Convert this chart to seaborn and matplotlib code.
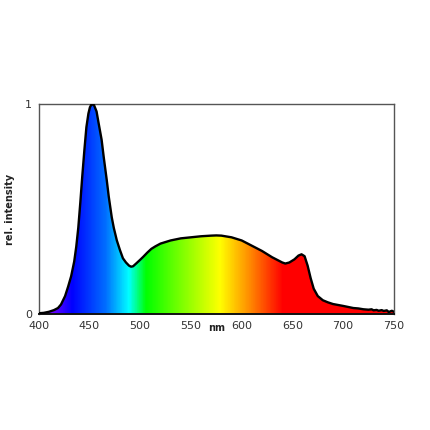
import numpy as np
import pandas as pd
import matplotlib
matplotlib.use("Agg")
import matplotlib.pyplot as plt
import seaborn as sns
from matplotlib.colors import LinearSegmentedColormap

# ---- data ----
wavelength = [400, 405, 410, 415, 419, 422, 426, 429, 432, 435, 437, 439, 441, 443,
              445, 447, 449, 450.5, 452, 453, 454.5, 457, 459, 462, 464, 467, 469,
              472, 474, 477, 480, 483, 486, 489, 491, 493, 496, 500, 503, 507, 511,
              515, 520, 530, 540, 550, 560, 570, 575, 580, 590, 600, 610, 620, 630,
              640, 643, 647, 652, 656, 659, 662, 665, 668, 671, 675, 680, 685, 690,
              700, 710, 715, 720, 725, 728, 730, 733, 735, 738, 740, 743, 745, 748, 750]
intensity = [0.003, 0.005, 0.01, 0.018, 0.028, 0.045, 0.085, 0.13, 0.18, 0.25, 0.32,
             0.41, 0.53, 0.66, 0.78, 0.89, 0.955, 0.985, 0.998, 1.0, 0.995, 0.965,
             0.91, 0.83, 0.75, 0.64, 0.56, 0.46, 0.41, 0.35, 0.305, 0.265, 0.245,
             0.23, 0.225, 0.227, 0.24, 0.258, 0.272, 0.292, 0.31, 0.322, 0.335, 0.35,
             0.36, 0.365, 0.37, 0.373, 0.374, 0.373, 0.365, 0.35, 0.325, 0.30, 0.27,
             0.245, 0.24, 0.245, 0.26, 0.278, 0.284, 0.275, 0.23, 0.17, 0.12, 0.085,
             0.065, 0.055, 0.047, 0.038, 0.028, 0.026, 0.022, 0.02, 0.022, 0.017,
             0.019, 0.015, 0.018, 0.014, 0.017, 0.009, 0.015, 0.01]
x_ticks = [400, 450, 500, 550, 600, 650, 700, 750]
y_ticks = [0, 1]
x_label = "nm"
y_label = "rel. intensity"

# colour stops of the spectrum fill (wavelength, colour)
stop_nm = [400, 412, 432, 465, 488, 505, 530, 578, 607, 640, 750]
stop_col = ["#7a00ff", "#6e00ff", "#0000ff", "#006eff", "#00ffff", "#00ff00",
            "#5aff00", "#ffff00", "#ff8c00", "#ff0000", "#ff0000"]

df = pd.DataFrame({"wavelength": wavelength, "intensity": intensity})

sns.set_theme(style="white")
plt.rcParams["font.family"] = ["DejaVu Sans"]

fig = plt.figure(figsize=(4.3, 4.3), dpi=100)
ax = fig.add_axes([0.09, 0.27, 0.826, 0.488])

xmin, xmax = 400, 750
cmap = LinearSegmentedColormap.from_list(
    "spec", [((n - xmin) / (xmax - xmin), c) for n, c in zip(stop_nm, stop_col)])

poly = ax.fill_between(df["wavelength"], 0, df["intensity"], color="none", lw=0)
grad = np.linspace(0, 1, 700).reshape(1, -1)
im = ax.imshow(grad, cmap=cmap, extent=[xmin, xmax, 0, 1], aspect="auto",
               origin="lower", zorder=1)
im.set_clip_path(poly.get_paths()[0], transform=ax.transData)

sns.lineplot(data=df, x="wavelength", y="intensity", color="black", lw=1.7,
             ax=ax, zorder=3)

ax.set_xlim(xmin, xmax)
ax.set_ylim(0, 1)
ax.set_xticks(x_ticks)
ax.set_yticks(y_ticks)
ax.set_xticklabels([str(t) for t in x_ticks], fontsize=8, color="#333333")
ax.set_yticklabels([str(t) for t in y_ticks], fontsize=8, color="#333333")
ax.tick_params(length=0, pad=5)
ax.set_xlabel("")
ax.set_ylabel(y_label, fontsize=7, fontweight="bold", color="#222222", labelpad=7)
ax.text(575, -0.065, x_label, transform=ax.get_xaxis_transform(), ha="center",
        va="center", fontsize=7, fontweight="bold", color="#222222")
for s in ax.spines.values():
    s.set_color("#555555")
    s.set_linewidth(1.0)
ax.spines["bottom"].set_color("#111111")
ax.spines["bottom"].set_linewidth(1.4)

fig.savefig("out.png", dpi=100, facecolor="white")
